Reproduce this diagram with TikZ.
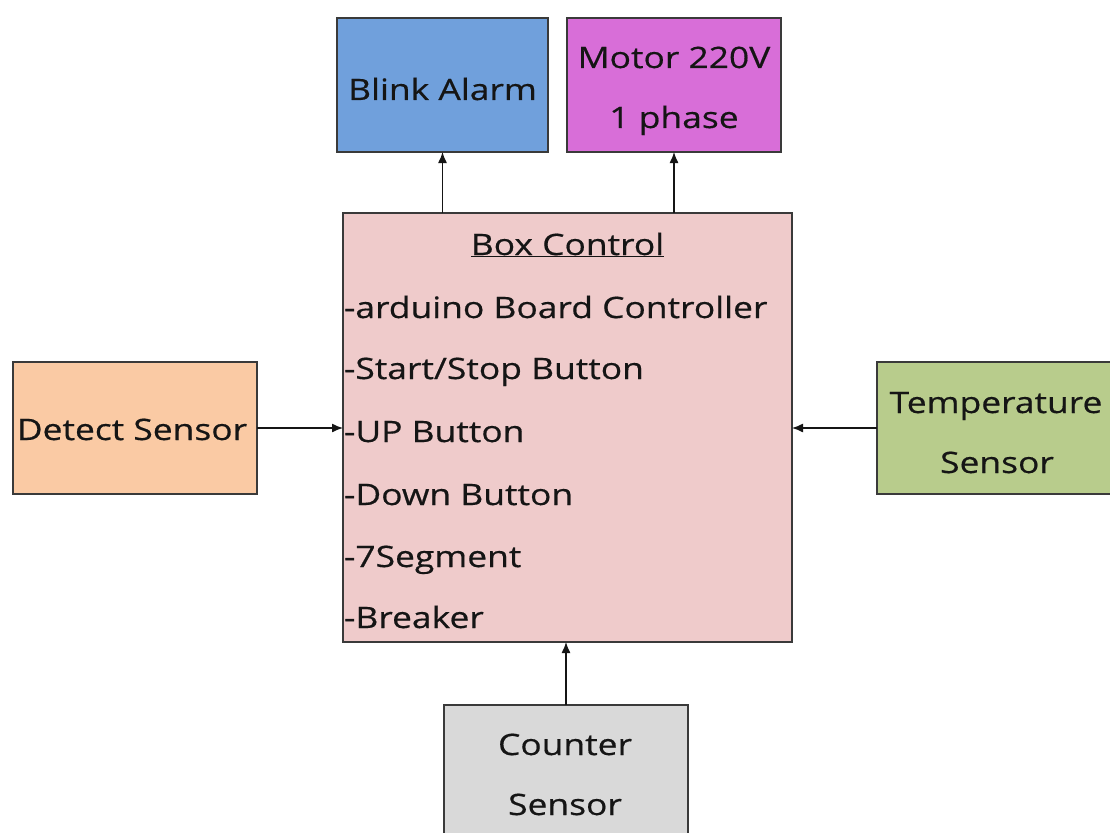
\documentclass[tikz,border=0pt]{standalone}
\usepackage{fontspec}
\setmainfont[FakeStretch=1.2,FakeBold=0.5]{Open Sans}
\usetikzlibrary{arrows.meta}
\definecolor{cBlue}{HTML}{70A0DC}
\definecolor{cMag}{HTML}{D86ED8}
\definecolor{cPink}{HTML}{EFCBCB}
\definecolor{cOrange}{HTML}{FACAA4}
\definecolor{cGreen}{HTML}{B8CC8C}
\definecolor{cGray}{HTML}{D9D9D9}
\definecolor{cEdge}{HTML}{3A3A3A}
\definecolor{cText}{HTML}{151515}
\begin{document}
\begin{tikzpicture}[x=1pt,y=-1pt,
  box/.style={draw=cEdge, line width=1.6pt, inner sep=0pt, outer sep=0pt, rectangle},
  txt/.style={inner sep=0pt, outer sep=0pt, text=cText, font=\fontsize{29.5}{36}\selectfont},
  arr/.style={draw=cText, line width=1.3pt, -{Latex[length=11pt,width=9pt]}}]
\useasboundingbox (0,0) rectangle (1110,832);
\fill[white] (0,0) rectangle (1110,832);
\clip (0,0) rectangle (1110,832);
% boxes
\node[box, fill=cBlue, minimum width=211pt, minimum height=134pt] (blink) at (442.5,85) {};
\node[box, fill=cMag, minimum width=214pt, minimum height=134pt] (motor) at (674,85) {};
\node[box, fill=cPink, minimum width=449pt, minimum height=429pt] (ctrl) at (567.5,427.5) {};
\node[box, fill=cOrange, minimum width=244pt, minimum height=132pt] (detect) at (135,428) {};
\node[box, fill=cGreen, minimum width=258pt, minimum height=132pt] (temp) at (1006,428) {};
\node[box, fill=cGray, minimum width=244pt, minimum height=150pt] (counter) at (566,780) {};
% texts
\node[txt, anchor=base] (tblink) at (442.5,100) {Blink Alarm};
\node[txt, anchor=base] (tmotor1) at (674,68) {Motor 220V};
\node[txt, anchor=base] (tmotor2) at (674,128) {1 phase};
\node[txt, anchor=base] (tctrl) at (567.5,255) {\underline{Box Control}};
\node[txt, anchor=base west] (l1) at (344,318) {-arduino Board Controller};
\node[txt, anchor=base west] (l2) at (344,379) {-Start/Stop Button};
\node[txt, anchor=base west] (l3) at (344,442) {-UP Button};
\node[txt, anchor=base west] (l4) at (344,505) {-Down Button};
\node[txt, anchor=base west] (l5) at (344,567) {-7Segment};
\node[txt, anchor=base west] (l6) at (344,628) {-Breaker};
\node[txt, anchor=base] (tdetect) at (132,440) {Detect Sensor};
\node[txt, anchor=base] (ttemp1) at (996,413) {Temperature};
\node[txt, anchor=base] (ttemp2) at (997,473) {Sensor};
\node[txt, anchor=base] (tcount1) at (565,755) {Counter};
\node[txt, anchor=base] (tcount2) at (565,815) {Sensor};
% connectors
\draw[arr] (ctrl.north -| blink) -- (blink.south);
\draw[arr] (ctrl.north -| motor) -- (motor.south);
\draw[arr] (detect.east) -- (detect.east -| ctrl.west);
\draw[arr] (temp.west) -- (temp.west -| ctrl.east);
\draw[arr] (counter.north) -- (counter.north |- ctrl.south);
\end{tikzpicture}
\end{document}
